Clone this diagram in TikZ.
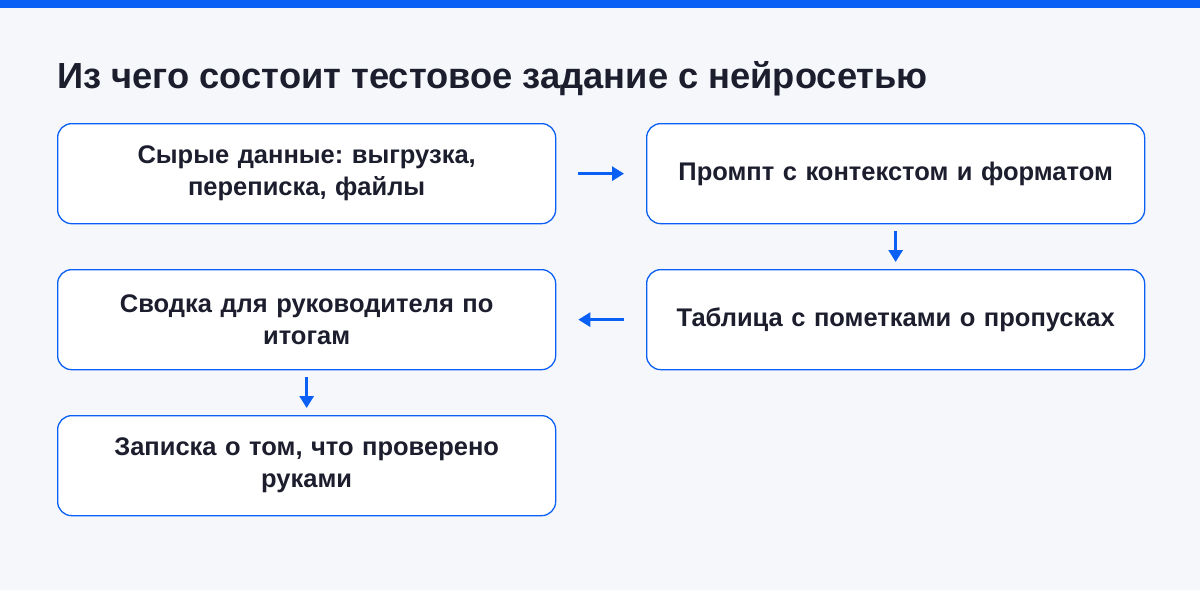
\documentclass[tikz,border=0pt]{standalone}
\usepackage{fontspec}
\setmainfont{Liberation Sans}
\usetikzlibrary{arrows.meta}
\definecolor{bg}{HTML}{F6F7FB}
\definecolor{blu}{HTML}{0A5FF5}
\definecolor{ink}{HTML}{1C1E2E}
\frenchspacing
\begin{document}
\begin{tikzpicture}[x=1pt,y=-1pt,
  box/.style={draw=blu,line width=1.3pt,fill=white,rounded corners=14pt,minimum width=498pt,minimum height=100pt,anchor=north west,inner sep=0pt},
  txt/.style={text=ink,font=\fontsize{25.5}{32}\selectfont\bfseries,align=center,text width=470pt},
  arr/.style={draw=blu,line width=2.8pt,-{Triangle[length=12pt,width=14pt]}}]
\fill[bg] (0,0) rectangle (1200,590);
\useasboundingbox (0,0) rectangle (1200,590);
\fill[blu] (0,0) rectangle (1200,8);
\node[anchor=base west,text=ink,font=\fontsize{36.3}{40}\selectfont\bfseries,inner sep=0pt] (title) at (57,88) {Из чего состоит тестовое задание с нейросетью};
\node[box] (a) at (57,123) {};
\node[box] (b) at (646,123) {};
\node[box] (c) at (646,269) {};
\node[box] (d) at (57,269) {};
\node[box] (e) at (57,415) {};
\node[txt] at (a.center) {Сырые данные: выгрузка,\\переписка, файлы};
\node[txt] at (b.center) {Промпт с контекстом и форматом};
\node[txt] at (c.center) {Таблица с пометками о пропусках};
\node[txt] at (d.center) {Сводка для руководителя по\\итогам};
\node[txt] at (e.center) {Записка о том, что проверено\\руками};
\draw[arr] ([xshift=22pt]a.east) -- ([xshift=-22pt]b.west);
\draw[arr] ([yshift=-7pt]b.south) -- ([yshift=7pt]c.north);
\draw[arr] ([xshift=-22pt]c.west) -- ([xshift=22pt]d.east);
\draw[arr] ([yshift=-7pt]d.south) -- ([yshift=7pt]e.north);
\end{tikzpicture}
\end{document}
